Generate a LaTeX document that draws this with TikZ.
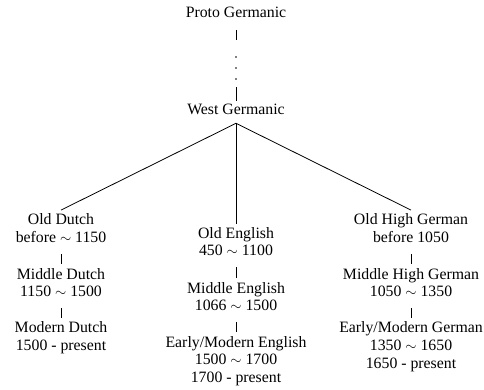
\documentclass[tikz,border=0pt]{standalone}
\usepackage{fontspec}
\setmainfont{Liberation Serif}
\begin{document}
\begin{tikzpicture}[x=1pt,y=-1pt,
  lang/.style={anchor=north,inner sep=0pt,align=center,
    font=\fontsize{15.8}{17.8}\selectfont},
  dotmark/.style={circle,fill=black,inner sep=0pt,minimum size=1.9pt},
  link/.style={draw=black,line width=0.8pt}]
\useasboundingbox (0,0) rectangle (484,390);
% nodes
\node[lang] (proto) at (236,6.5) {Proto Germanic};
\node[dotmark] (d1) at (236,57) {};
\node[dotmark] (d2) at (236,68) {};
\node[dotmark] (d3) at (236,79) {};
\node[lang] (west) at (236,104.2) {West Germanic};
\node[lang] (oldD) at (61,213.7) {Old Dutch\\before $\sim$ 1150};
\node[lang] (midD) at (61,268) {Middle Dutch\\1150 $\sim$ 1500};
\node[lang] (modD) at (61,321.6) {Modern Dutch\\1500 - present};
\node[lang] (oldE) at (236,227) {Old English\\450 $\sim$ 1100};
\node[lang] (midE) at (236,282) {Middle English\\1066 $\sim$ 1500};
\node[lang] (earE) at (236,336) {Early/Modern English\\1500 $\sim$ 1700\\1700 - present};
\node[lang] (oldG) at (411,213.7) {Old High German\\before 1050};
\node[lang] (midG) at (411,268) {Middle High German\\1050 $\sim$ 1350};
\node[lang] (earG) at (411,321.6) {Early/Modern German\\1350 $\sim$ 1650\\1650 - present};
% connectors
\draw[link] ([yshift=-12.7pt]proto.south) -- ([yshift=16pt]d1.north);
\draw[link] ([yshift=-7pt]d3.south) -- ([yshift=3pt]west.north);
\coordinate (apex) at ([yshift=-8pt]west.south);
\draw[link] (apex) -- ([yshift=3.6pt]oldD.north);
\draw[link] (apex) -- ([yshift=3pt]oldE.north);
\draw[link] (apex) -- ([yshift=3.6pt]oldG.north);
\draw[link] ([yshift=-11pt]oldD.south) -- ([yshift=4pt]midD.north);
\draw[link] ([yshift=-11pt]midD.south) -- ([yshift=4pt]modD.north);
\draw[link] ([yshift=-11pt]oldE.south) -- ([yshift=4pt]midE.north);
\draw[link] ([yshift=-11pt]midE.south) -- ([yshift=4pt]earE.north);
\draw[link] ([yshift=-11pt]oldG.south) -- ([yshift=4pt]midG.north);
\draw[link] ([yshift=-11pt]midG.south) -- ([yshift=4pt]earG.north);
\end{tikzpicture}
\end{document}
